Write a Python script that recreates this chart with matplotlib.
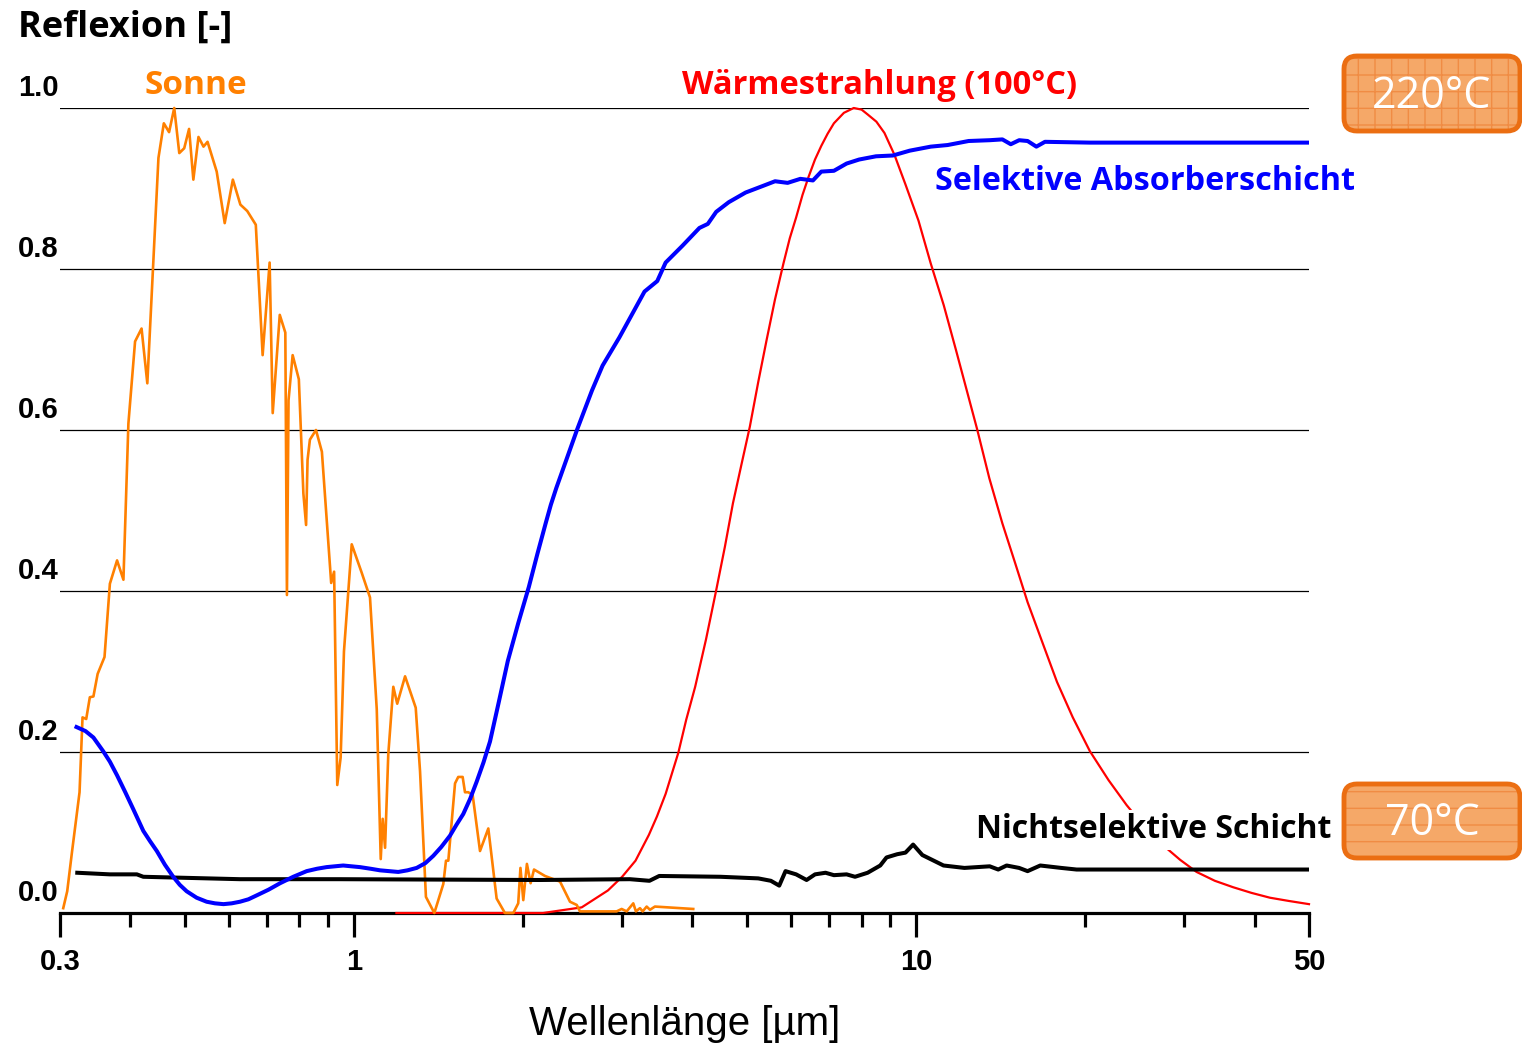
import matplotlib
matplotlib.use("Agg")
import matplotlib.pyplot as plt
from matplotlib import transforms
from matplotlib.patches import FancyBboxPatch
from matplotlib.ticker import NullFormatter

# ---- data -------------------------------------------------------------
# Solar spectrum (normalised)
sun_wl = [0.304, 0.309, 0.315, 0.325, 0.329, 0.334, 0.339, 0.344, 0.350, 0.360,
          0.368, 0.379, 0.389, 0.397, 0.408, 0.419, 0.429, 0.449, 0.459, 0.469,
          0.479, 0.489, 0.499, 0.509, 0.518, 0.529, 0.540, 0.549, 0.570, 0.589,
          0.609, 0.628, 0.646, 0.669, 0.688, 0.708, 0.717, 0.738, 0.755, 0.760,
          0.765, 0.778, 0.798, 0.813, 0.822, 0.827, 0.835, 0.856, 0.877, 0.911,
          0.922, 0.934, 0.947, 0.960, 0.991, 1.032, 1.068, 1.098, 1.116, 1.125,
          1.136, 1.151, 1.175, 1.194, 1.233, 1.288, 1.311, 1.343, 1.390, 1.442,
          1.458, 1.472, 1.513, 1.533, 1.561, 1.576, 1.597, 1.626, 1.676, 1.734,
          1.794, 1.856, 1.921, 1.960, 1.978, 2.001, 2.031, 2.062, 2.091, 2.187,
          2.326, 2.423, 2.491, 2.524, 2.933, 2.994, 3.056, 3.140, 3.174, 3.227,
          3.263, 3.317, 3.362, 3.431, 4.014]
sun_val = [0.006, 0.027, 0.075, 0.150, 0.243, 0.241, 0.268, 0.269, 0.297, 0.318,
           0.409, 0.438, 0.414, 0.608, 0.710, 0.726, 0.658, 0.938, 0.981, 0.970,
           1.000, 0.944, 0.950, 0.974, 0.911, 0.964, 0.952, 0.958, 0.921, 0.857,
           0.911, 0.880, 0.872, 0.855, 0.693, 0.808, 0.621, 0.743, 0.721, 0.395,
           0.637, 0.693, 0.663, 0.521, 0.482, 0.563, 0.588, 0.600, 0.573, 0.410,
           0.424, 0.159, 0.193, 0.325, 0.458, 0.423, 0.392, 0.253, 0.067, 0.117,
           0.081, 0.197, 0.281, 0.260, 0.294, 0.255, 0.176, 0.020, 0.000, 0.036,
           0.065, 0.065, 0.161, 0.169, 0.169, 0.150, 0.150, 0.147, 0.077, 0.105,
           0.018, 0.000, 0.000, 0.012, 0.056, 0.016, 0.061, 0.037, 0.054, 0.046,
           0.039, 0.014, 0.010, 0.002, 0.002, 0.005, 0.002, 0.012, 0.002, 0.006,
           0.002, 0.008, 0.004, 0.008, 0.005]

# Thermal radiation of a body at 100 °C (normalised)
heat_wl = [1.190, 2.169, 2.542, 2.830, 3.000, 3.169, 3.347, 3.460, 3.585, 3.776,
           3.900, 4.046, 4.230, 4.410, 4.570, 4.723, 4.890, 5.061, 5.240, 5.422,
           5.610, 5.809, 5.960, 6.118, 6.280, 6.442, 6.610, 6.783, 6.960, 7.142,
           7.440, 7.746, 8.000, 8.200, 8.500, 8.785, 9.150, 9.575, 10.10, 10.618,
           11.20, 11.779, 12.841, 13.50, 14.240, 15.00, 15.791, 16.80, 17.811,
           19.00, 20.38, 22.00, 23.69, 25.50, 27.52, 29.50, 31.55, 34.00, 36.65,
           39.50, 42.60, 46.00, 50.0]
heat_val = [0.000, 0.000, 0.007, 0.028, 0.045, 0.065, 0.097, 0.120, 0.148, 0.199,
            0.240, 0.281, 0.340, 0.401, 0.455, 0.509, 0.557, 0.604, 0.660, 0.712,
            0.762, 0.807, 0.838, 0.864, 0.892, 0.915, 0.936, 0.953, 0.968, 0.981,
            0.994, 1.000, 0.998, 0.992, 0.983, 0.969, 0.942, 0.905, 0.860, 0.807,
            0.755, 0.699, 0.601, 0.540, 0.484, 0.435, 0.386, 0.335, 0.287,
            0.243, 0.201, 0.165, 0.134, 0.107, 0.084, 0.066, 0.051, 0.040, 0.032,
            0.025, 0.019, 0.015, 0.011]

# Selective absorber coating
sel_wl = [0.321, 0.333, 0.344, 0.358, 0.368, 0.379, 0.392, 0.405, 0.422, 0.434,
          0.446, 0.461, 0.477, 0.490, 0.504, 0.525, 0.547, 0.566, 0.586, 0.606,
          0.627, 0.649, 0.672, 0.705, 0.739, 0.780, 0.824, 0.860, 0.894, 0.925,
          0.957, 0.990, 1.025, 1.070, 1.113, 1.155, 1.199, 1.245, 1.293, 1.340,
          1.384, 1.430, 1.482, 1.520, 1.565, 1.610, 1.653, 1.700, 1.746, 1.810,
          1.878, 1.960, 2.047, 2.120, 2.193, 2.240, 2.291, 2.496, 2.651, 2.769,
          2.966, 3.288, 3.464, 3.585, 3.842, 4.117, 4.261, 4.410, 4.643, 4.975,
          5.331, 5.612, 5.909, 6.225, 6.554, 6.783, 7.142, 7.523, 7.921, 8.486,
          9.094, 9.743, 10.618, 11.380, 12.401, 13.524, 14.240, 14.738, 15.254,
          15.791, 16.367, 16.954, 20.38, 50.0]
sel_val = [0.231, 0.226, 0.218, 0.201, 0.188, 0.171, 0.150, 0.129, 0.102, 0.089,
           0.077, 0.060, 0.045, 0.035, 0.027, 0.019, 0.014, 0.012, 0.011, 0.012,
           0.014, 0.017, 0.022, 0.029, 0.037, 0.045, 0.052, 0.055, 0.057, 0.058,
           0.059, 0.058, 0.057, 0.055, 0.053, 0.052, 0.051, 0.053, 0.056, 0.062,
           0.071, 0.082, 0.096, 0.109, 0.123, 0.142, 0.163, 0.187, 0.213, 0.262,
           0.313, 0.360, 0.405, 0.446, 0.484, 0.507, 0.528, 0.601, 0.649, 0.680,
           0.715, 0.772, 0.785, 0.808, 0.829, 0.851, 0.856, 0.871, 0.883, 0.895,
           0.903, 0.909, 0.907, 0.912, 0.910, 0.921, 0.922, 0.931, 0.936, 0.940,
           0.941, 0.947, 0.952, 0.954, 0.959, 0.960, 0.961, 0.955, 0.960,
           0.959, 0.952, 0.958, 0.957, 0.957]

# Non-selective coating
nonsel_wl = [0.322, 0.368, 0.411, 0.422, 0.627, 0.941, 2.142, 3.097, 3.355, 3.492,
             4.487, 5.239, 5.517, 5.709, 5.858, 6.118, 6.386, 6.611, 6.901, 7.142,
             7.523, 7.788, 8.200, 8.635, 8.860, 9.254, 9.575, 9.879, 10.26, 11.19,
             12.19, 13.52, 14.00, 14.49, 15.25, 15.79, 16.63, 18.12, 19.30, 50.0]
nonsel_val = [0.050, 0.048, 0.048, 0.045, 0.042, 0.042, 0.041, 0.042, 0.040, 0.046,
              0.045, 0.043, 0.040, 0.034, 0.052, 0.048, 0.041, 0.048, 0.050, 0.047,
              0.048, 0.045, 0.050, 0.059, 0.069, 0.073, 0.075, 0.085, 0.072, 0.059,
              0.056, 0.058, 0.054, 0.059, 0.056, 0.052, 0.059, 0.056, 0.054, 0.054]

x_major = [0.3, 1, 10, 50]
x_major_labels = ["0.3", "1", "10", "50"]
x_minor = [0.4, 0.5, 0.6, 0.7, 0.8, 0.9, 2, 3, 4, 5, 6, 7, 8, 9, 20, 30, 40]
y_ticks = [0.0, 0.2, 0.4, 0.6, 0.8, 1.0]
y_labels = ["0.0", "0.2", "0.4", "0.6", "0.8", "1.0"]

# ---- figure -----------------------------------------------------------
W, H = 1522, 1043
fig = plt.figure(figsize=(W / 100, H / 100), dpi=100)
ax = fig.add_axes([60 / W, 130 / H, 1249 / W, 805 / H])
ax.set_xscale("log")
ax.set_xlim(0.3, 50)
ax.set_ylim(0, 1.0)

for side in ("left", "right", "top"):
    ax.spines[side].set_visible(False)
ax.spines["bottom"].set_linewidth(2.3)

ax.set_yticks(y_ticks)
ax.yaxis.grid(True, color="black", linewidth=0.9)
ax.tick_params(axis="y", length=0, labelleft=False)
ax.set_axisbelow(True)

tick_font = dict(family="Liberation Sans", weight="bold", size=21)
ax.set_xticks(x_major)
ax.set_xticklabels(x_major_labels, fontdict=tick_font)
ax.set_xticks(x_minor, minor=True)
ax.xaxis.set_minor_formatter(NullFormatter())
ax.tick_params(axis="x", which="major", length=17, width=2.3, pad=8, color="black")
ax.tick_params(axis="x", which="minor", length=10, width=2.3, color="black")

# y labels sit just above their gridline, left aligned
ylab_tr = transforms.offset_copy(ax.get_yaxis_transform(), fig=fig, x=0, y=20, units="dots")
for v, lab in zip(y_ticks, y_labels):
    ax.text(-42 / 1249, v, lab, transform=ylab_tr, ha="left", va="center",
            family="Liberation Sans", weight="bold", size=21)

# curves
ax.plot(heat_wl, heat_val, color="#FF0000", lw=1.6, zorder=3, clip_on=False)
ax.plot(sun_wl, sun_val, color="#FF8000", lw=1.9, zorder=4, clip_on=False)
ax.plot(nonsel_wl, nonsel_val, color="black", lw=2.9, zorder=5)
ax.plot(sel_wl, sel_val, color="#0000FF", lw=2.9, zorder=6)

ax.set_xlabel("Wellenlänge [µm]", family="Liberation Sans", size=29, labelpad=21)


def fx(px, py):
    return px / W, 1 - py / H


label_font = "Open Sans"
fig.text(*fx(18, 28), "Reflexion [-]", ha="left", va="center", family=label_font,
         weight="bold", size=26, color="black")
fig.text(*fx(196, 85), "Sonne", ha="center", va="center", family=label_font,
         weight="bold", size=24, color="#FF8000")
fig.text(*fx(880, 85), "Wärmestrahlung (100°C)", ha="center", va="center", family=label_font,
         weight="bold", size=23.5, color="#FF0000")
fig.text(*fx(1145, 181), "Selektive Absorberschicht", ha="center", va="center", family=label_font,
         weight="bold", size=23.3, color="#0000FF")
fig.text(*fx(1154, 830), "Nichtselektive Schicht", ha="center", va="center", family=label_font,
         weight="bold", size=23, color="black", zorder=10,
         bbox=dict(boxstyle="square,pad=0.12", facecolor="white", edgecolor="none"))

# temperature badges
pix = transforms.IdentityTransform()
for (x0, y0, x1, y1), text, hatch in (((1344, 56, 1520, 131), "220°C", "+"),
                                      ((1344, 784, 1520, 858), "70°C", "-")):
    shape = dict(boxstyle="round,pad=0,rounding_size=13", transform=pix)
    fill = FancyBboxPatch((x0, H - y1), x1 - x0, y1 - y0, facecolor="#F5A868",
                          edgecolor="#F08C44", hatch=hatch, linewidth=0, **shape)
    rim = FancyBboxPatch((x0, H - y1), x1 - x0, y1 - y0, facecolor="none",
                         edgecolor="#EB6E12", linewidth=3.5, **shape)
    fig.add_artist(fill)
    fig.add_artist(rim)
    fig.text(*fx((x0 + x1) / 2, (y0 + y1) / 2 + 3), text, ha="center", va="center",
             family="Open Sans", size=31, color="white", zorder=12)

fig.savefig("out.png", dpi=100)
